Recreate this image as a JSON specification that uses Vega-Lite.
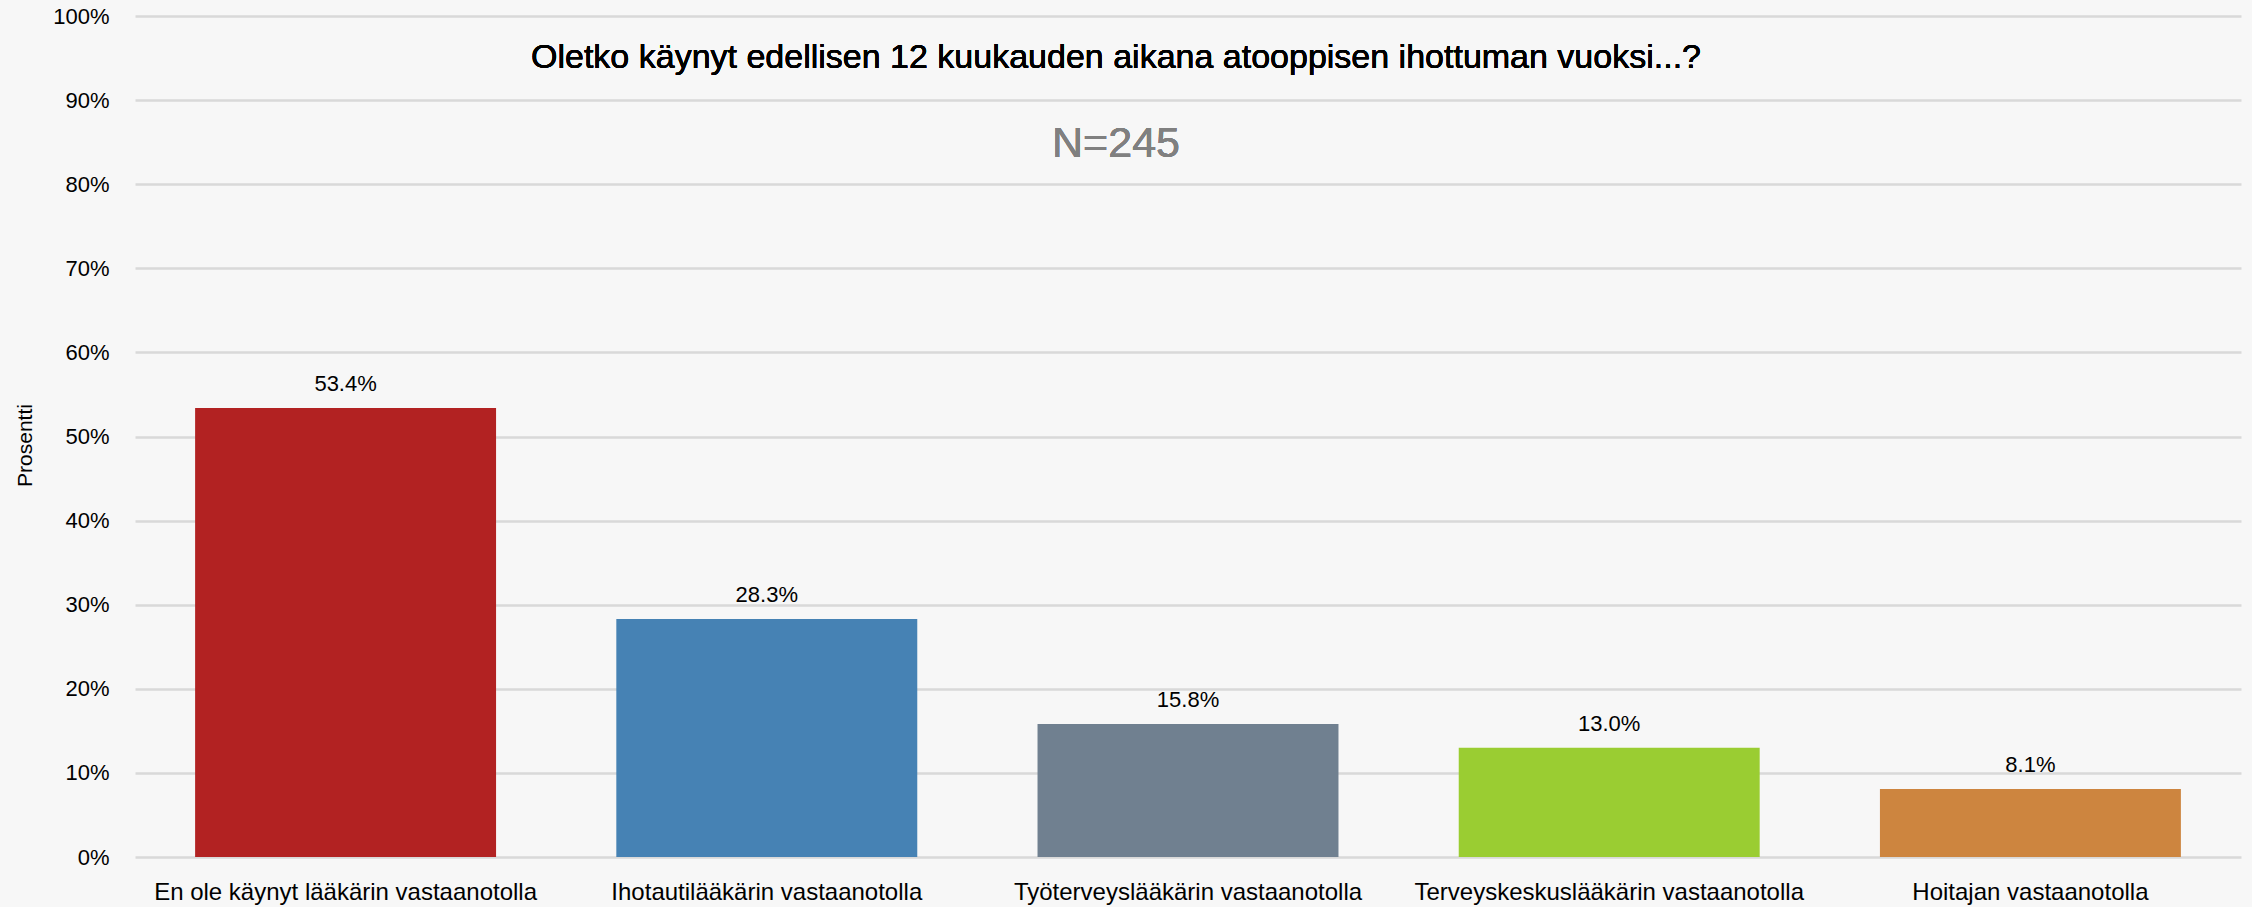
{
  "$schema": "https://vega.github.io/schema/vega-lite/v6.json",
  "width": 2106,
  "height": 841,
  "autosize": {"type": "none"},
  "padding": {"left": 135, "top": 16, "right": 11, "bottom": 50},
  "background": "#f7f7f7",
  "config": {
    "view": {"stroke": null},
    "font": "Liberation Sans"
  },
  "data": {
    "values": [
      {"cat": "En ole käynyt lääkärin vastaanotolla", "pct": 0.534},
      {"cat": "Ihotautilääkärin vastaanotolla", "pct": 0.283},
      {"cat": "Työterveyslääkärin vastaanotolla", "pct": 0.158},
      {"cat": "Terveyskeskuslääkärin vastaanotolla", "pct": 0.130},
      {"cat": "Hoitajan vastaanotolla", "pct": 0.081}
    ]
  },
  "encoding": {
    "x": {
      "field": "cat",
      "type": "nominal",
      "sort": null,
      "scale": {"paddingInner": 0.2855, "paddingOuter": 0.1427},
      "axis": {
        "title": null,
        "labelAngle": 0,
        "labelFontSize": 24,
        "labelColor": "#000000",
        "labelPadding": 23,
        "ticks": false,
        "domain": false,
        "labelLimit": 0
      }
    }
  },
  "layer": [
    {
      "mark": {"type": "bar"},
      "encoding": {
        "y": {
          "field": "pct",
          "type": "quantitative",
          "scale": {"domain": [0, 1]},
          "axis": {
            "title": "Prosentti",
            "titleFontSize": 21,
            "titleFontWeight": "normal",
            "titleColor": "#000000",
            "titleAngle": 270,
            "titleX": -110,
            "titleY": 429,
            "titleAlign": "center",
            "titleBaseline": "middle",
            "format": ".0%",
            "values": [0, 0.1, 0.2, 0.3, 0.4, 0.5, 0.6, 0.7, 0.8, 0.9, 1],
            "labelOverlap": false,
            "labelFontSize": 22,
            "labelColor": "#000000",
            "labelPadding": 26,
            "ticks": false,
            "domain": false,
            "grid": true,
            "gridColor": "#d9d9d9",
            "gridWidth": 2.5
          }
        },
        "color": {
          "field": "cat",
          "type": "nominal",
          "sort": null,
          "legend": null,
          "scale": {
            "domain": [
              "En ole käynyt lääkärin vastaanotolla",
              "Ihotautilääkärin vastaanotolla",
              "Työterveyslääkärin vastaanotolla",
              "Terveyskeskuslääkärin vastaanotolla",
              "Hoitajan vastaanotolla"
            ],
            "range": ["#B22222", "#4682B4", "#708090", "#9ACD32", "#CD853F"]
          }
        }
      }
    },
    {
      "mark": {"type": "text", "baseline": "bottom", "dy": -12, "fontSize": 22, "color": "#000000"},
      "encoding": {
        "y": {"field": "pct", "type": "quantitative"},
        "text": {"field": "pct", "type": "quantitative", "format": ".1%"}
      }
    },
    {
      "mark": {
        "type": "text",
        "text": "Oletko käynyt edellisen 12 kuukauden aikana atooppisen ihottuman vuoksi...?",
        "fontSize": 34,
        "baseline": "middle",
        "align": "center",
        "dx": -72,
        "color": "#000000"
      },
      "encoding": {
        "x": {"datum": "Työterveyslääkärin vastaanotolla"},
        "y": {"datum": 0.95}
      }
    },
    {
      "mark": {
        "type": "text",
        "text": "N=245",
        "fontSize": 43,
        "baseline": "middle",
        "align": "center",
        "dx": -72,
        "color": "#808080"
      },
      "encoding": {
        "x": {"datum": "Työterveyslääkärin vastaanotolla"},
        "y": {"datum": 0.848}
      }
    }
  ]
}
